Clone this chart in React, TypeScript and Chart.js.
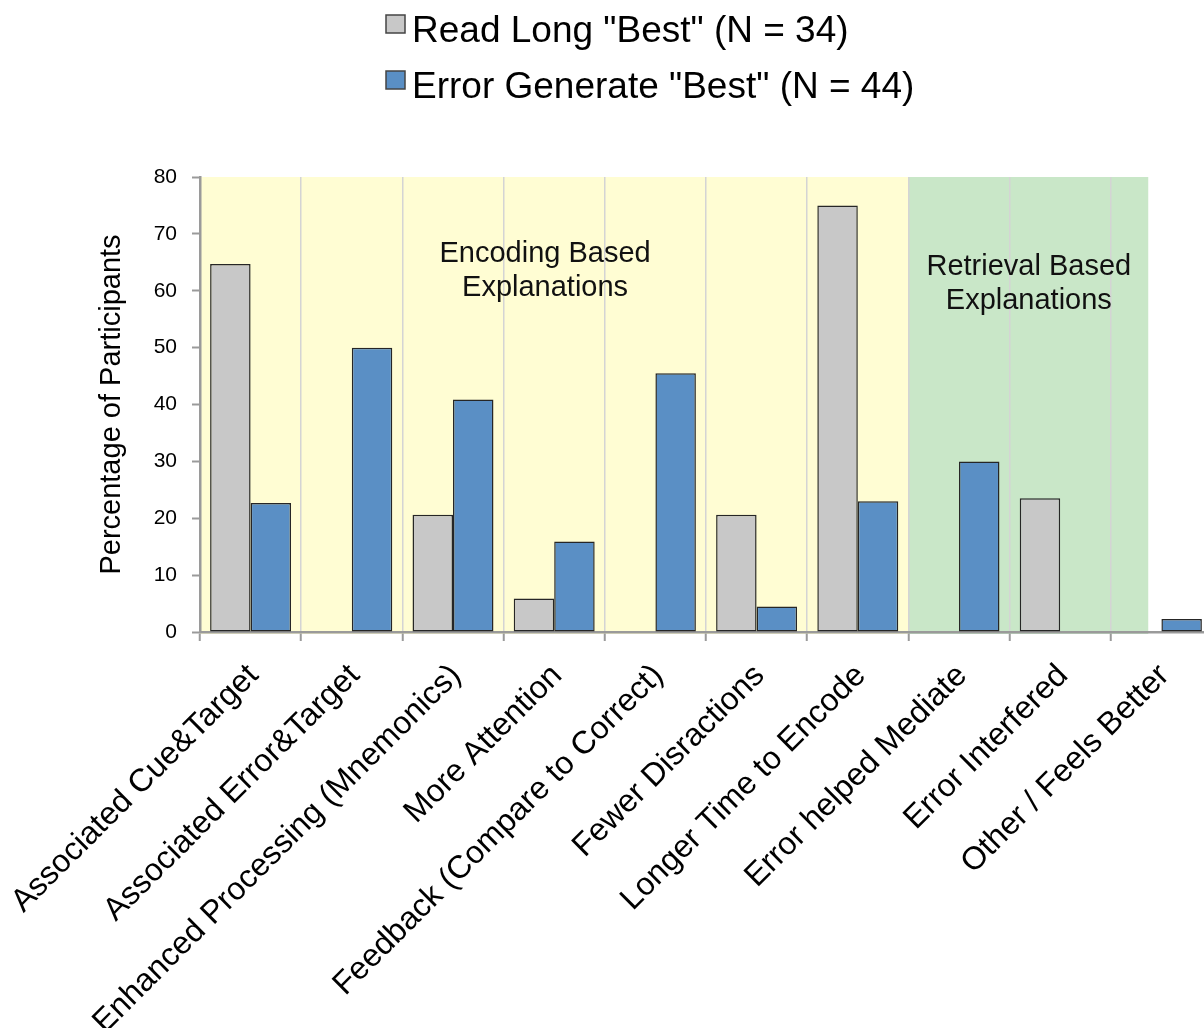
import React, { useEffect, useRef } from "react";
import { Chart, registerables } from "chart.js";

Chart.register(...registerables);

// ---- data ----
const categories = [
  "Associated Cue&Target",
  "Associated Error&Target",
  "Enhanced Processing (Mnemonics)",
  "More Attention",
  "Feedback (Compare to Correct)",
  "Fewer Disractions",
  "Longer Time to Encode",
  "Error helped Mediate",
  "Error Interfered",
  "Other / Feels Better",
];
const readLongLabel = 'Read Long "Best" (N = 34)';
const errorGenerateLabel = 'Error Generate "Best" (N = 44)';
const readLongValues = [64.7, 0, 20.6, 5.9, 0, 20.6, 75.0, 0, 23.5, 0];
const errorGenerateValues = [22.7, 50.0, 40.9, 15.9, 45.5, 4.5, 23.0, 30.0, 0, 2.3];
const yAxisTitle = "Percentage of Participants";
const yMin = 0;
const yMax = 80;
const yStep = 10;

// explanation groups, as spans in category units
const groupNames = [
  ["Encoding Based", "Explanations"],
  ["Retrieval Based", "Explanations"],
];
const groupSpans = [
  [-0.5, 6.5],
  [6.5, 8.87],
];

// ---- styles ----
const FONT = "'Liberation Sans', Arial, Helvetica, sans-serif";
const GREY = "#C8C8C8";
const BLUE = "#5A8FC5";
const BAR_EDGE = "#262626";
const AXIS = "#9A9A9A";
const GRID = "#D4D4D4";
const groupFills = ["#FFFDD3", "#C9E7C8"];
// caption anchors: [x in category units, baseline of first line in y units]
const groupCaptionAt = [
  [2.91, 65.0],
  [7.69, 62.8],
];

const backgroundPlugin = {
  id: "groupBackgrounds",
  beforeDraw(chart: any) {
    const { ctx, chartArea, scales } = chart;
    const x = scales.x;
    const unit = x.getPixelForValue(1) - x.getPixelForValue(0);
    ctx.save();
    groupSpans.forEach(([a, b], i) => {
      const x0 = x.getPixelForValue(0) + a * unit;
      const x1 = x.getPixelForValue(0) + b * unit;
      ctx.fillStyle = groupFills[i];
      ctx.fillRect(x0, chartArea.top, x1 - x0, chartArea.bottom - chartArea.top + 2);
    });
    ctx.restore();
  },
  beforeDatasetsDraw(chart: any) {
    const { ctx, scales } = chart;
    const x = scales.x;
    const y = scales.y;
    const unit = x.getPixelForValue(1) - x.getPixelForValue(0);
    ctx.save();
    ctx.fillStyle = "#111";
    ctx.font = `29px ${FONT}`;
    ctx.textAlign = "center";
    ctx.textBaseline = "alphabetic";
    groupNames.forEach((lines, i) => {
      const [cx, cy] = groupCaptionAt[i];
      const px = x.getPixelForValue(0) + cx * unit;
      const py = y.getPixelForValue(cy);
      lines.forEach((t, j) => ctx.fillText(t, px, py + j * 34));
    });
    ctx.restore();
  },
};

const legendPlugin = {
  id: "stackedLegend",
  afterDraw(chart: any) {
    const { ctx } = chart;
    ctx.save();
    chart.data.datasets.forEach((ds: any, i: number) => {
      const top = 15 + i * 56;
      ctx.fillStyle = ds.backgroundColor;
      ctx.fillRect(386, top, 19, 18);
      ctx.strokeStyle = "#444";
      ctx.lineWidth = 1.5;
      ctx.strokeRect(386, top, 19, 18);
      ctx.fillStyle = "#000";
      ctx.font = `37px ${FONT}`;
      ctx.textAlign = "left";
      ctx.textBaseline = "alphabetic";
      ctx.fillText(ds.label, 412, top + 27);
    });
    ctx.restore();
  },
};

export default function App() {
  const canvasRef = useRef<HTMLCanvasElement | null>(null);

  useEffect(() => {
    const canvas = canvasRef.current;
    if (!canvas) return;
    const chart = new Chart(canvas, {
      type: "bar",
      data: {
        labels: categories,
        datasets: [
          {
            label: readLongLabel,
            data: readLongValues,
            backgroundColor: GREY,
            borderColor: BAR_EDGE,
            borderWidth: 1.5,
            borderSkipped: false,
            categoryPercentage: 0.8,
            barPercentage: 1.0,
          },
          {
            label: errorGenerateLabel,
            data: errorGenerateValues,
            backgroundColor: BLUE,
            borderColor: BAR_EDGE,
            borderWidth: 1.5,
            borderSkipped: false,
            categoryPercentage: 0.8,
            barPercentage: 1.0,
          },
        ],
      },
      options: {
        responsive: false,
        animation: false,
        devicePixelRatio: 1,
        layout: { padding: { top: 177, left: 0, right: 0, bottom: 0 } },
        plugins: {
          legend: { display: false },
          tooltip: { enabled: false },
          title: { display: false },
        },
        scales: {
          x: {
            offset: true,
            grid: {
              offset: true,
              color: GRID,
              lineWidth: 1.5,
              tickColor: AXIS,
              tickWidth: 2,
              tickLength: 9,
              drawTicks: true,
            },
            border: { color: AXIS, width: 2.5 },
            ticks: {
              autoSkip: false,
              maxRotation: 45,
              minRotation: 45,
              color: "#000",
              padding: 16,
              labelOffset: 3,
              font: { family: FONT, size: 32 },
            },
            afterFit(scale: any) {
              scale.height = 396;
              scale.paddingLeft = 0;
              scale.paddingRight = 0;
            },
          },
          y: {
            min: yMin,
            max: yMax,
            grid: {
              drawOnChartArea: false,
              tickColor: AXIS,
              tickWidth: 2,
              tickLength: 8,
            },
            border: { color: AXIS, width: 2.5 },
            ticks: {
              stepSize: yStep,
              color: "#000",
              padding: 15,
              font: { family: FONT, size: 21 },
            },
            title: {
              display: true,
              text: yAxisTitle,
              color: "#000",
              font: { family: FONT, size: 29 },
              padding: { top: 95, bottom: 0 },
            },
            afterFit(scale: any) {
              scale.width = 200;
            },
          },
        },
      },
      plugins: [backgroundPlugin, legendPlugin],
    });
    return () => chart.destroy();
  }, []);

  return (
    <div
      style={{
        position: "absolute",
        left: 0,
        top: 0,
        width: 1204,
        height: 1028,
        overflow: "hidden",
        background: "#fff",
      }}
    >
      <canvas ref={canvasRef} width={1212} height={1028} style={{ display: "block" }} />
    </div>
  );
}
